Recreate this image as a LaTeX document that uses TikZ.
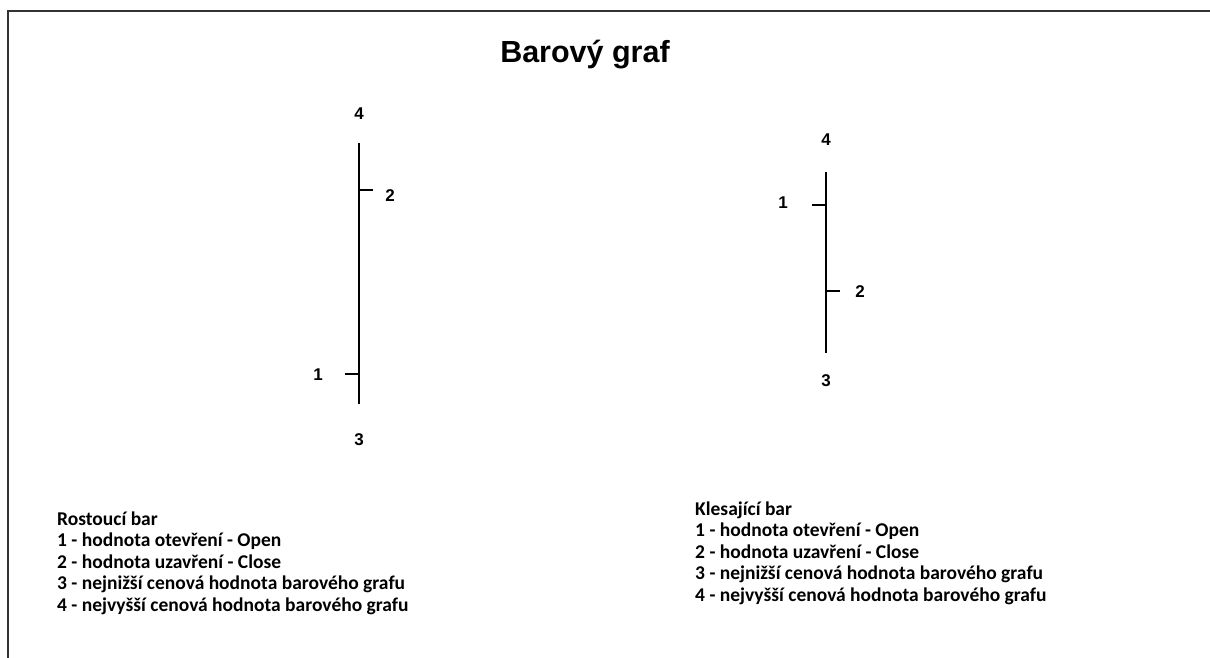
\documentclass[tikz,border=0pt]{standalone}
\usepackage{fontspec}
\setmainfont{Liberation Sans}
\newfontfamily\legendfont{Carlito}
\begin{document}
\begin{tikzpicture}[x=1pt,y=-1pt,
  bar/.style={line width=2pt,black},
  frame/.style={line width=2pt,black!80},
  num/.style={font=\fontsize{17}{17}\selectfont\bfseries,inner sep=0pt},
  legend/.style={anchor=base west,align=left,inner sep=0pt,
    font=\legendfont\bfseries\fontsize{19.5}{21.5}\selectfont}]
\useasboundingbox (0,0) rectangle (1210,658);
% frame
\coordinate (ftr) at (1210,11);
\coordinate (ftl) at (8,11);
\coordinate (fbl) at (8,658);
\draw[frame] (ftr) -- (ftl) -- (fbl);
% title
\node[inner sep=0pt,font=\fontsize{30.5}{30}\selectfont\bfseries] (title) at (585,55) {Barový graf};
% rising bar
\coordinate (L4) at (359,143);
\coordinate (L3) at (359,404);
\coordinate (L2) at (359,190);
\coordinate (L2e) at (373,190);
\coordinate (L1) at (359,374);
\coordinate (L1e) at (345,374);
\draw[bar] (L4) -- (L3);
\draw[bar] (L2) -- (L2e);
\draw[bar] (L1) -- (L1e);
\node[num] (l4) at (359,114) {4};
\node[num] (l3) at (359,440) {3};
\node[num] (l2) at (390,196) {2};
\node[num] (l1) at (318,375) {1};
% falling bar
\coordinate (R4) at (826,172);
\coordinate (R3) at (826,353);
\coordinate (R1) at (826,205);
\coordinate (R1e) at (812,205);
\coordinate (R2) at (826,291);
\coordinate (R2e) at (840,291);
\draw[bar] (R4) -- (R3);
\draw[bar] (R1) -- (R1e);
\draw[bar] (R2) -- (R2e);
\node[num] (r4) at (826,140) {4};
\node[num] (r3) at (826,381) {3};
\node[num] (r1) at (783,203) {1};
\node[num] (r2) at (860,292) {2};
% legends (anchored at the baseline of their last line)
\node[legend] (legL) at (57,611) {Rostoucí bar\\1 - hodnota otevření - Open\\2 - hodnota uzavření - Close\\3 - nejnižší cenová hodnota barového grafu\\4 - nejvyšší cenová hodnota barového grafu};
\node[legend] (legR) at (695,601) {Klesající bar\\1 - hodnota otevření - Open\\2 - hodnota uzavření - Close\\3 - nejnižší cenová hodnota barového grafu\\4 - nejvyšší cenová hodnota barového grafu};
\end{tikzpicture}
\end{document}
